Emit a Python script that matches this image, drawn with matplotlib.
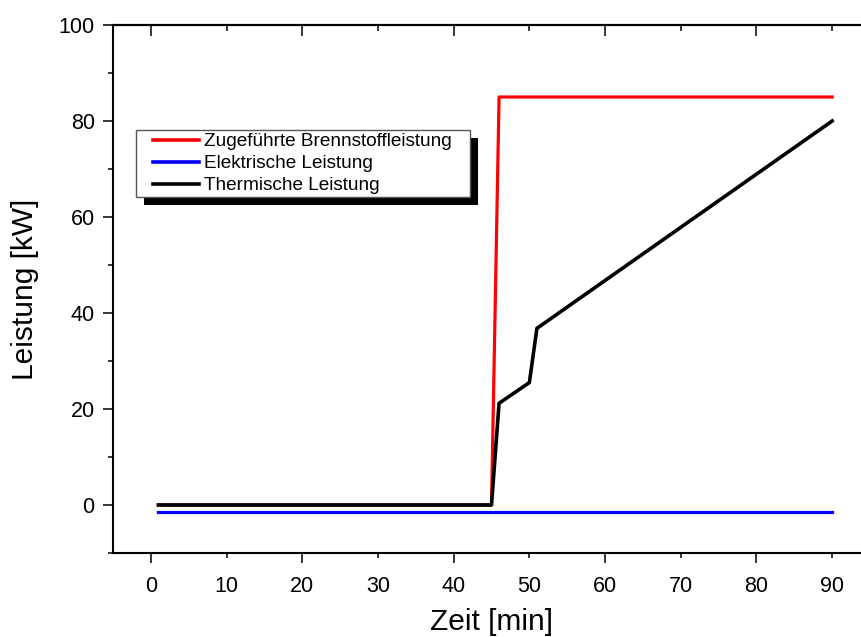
#Leistungsverlauf: Brennstoff-, elektrische und thermische Leistung ueber die Zeit

import matplotlib
matplotlib.use("Agg")
import matplotlib.pyplot as plt
from matplotlib.patches import Rectangle
from matplotlib.transforms import IdentityTransform
from matplotlib.ticker import MultipleLocator, FormatStrFormatter

plt.rcParams['font.family'] = ['Liberation Sans', 'DejaVu Sans']

# data
zeit_brennstoff = [1, 45, 46, 90]
brennstoff = [0, 0, 85, 85]

zeit_elektrisch = [1, 90]
elektrisch = [-1.5, -1.5]

zeit_thermisch = [1, 45, 46, 50, 51, 90]
thermisch = [0, 0, 21.2, 25.5, 36.8, 80]

labels = ["Zugeführte Brennstoffleistung", "Elektrische Leistung", "Thermische Leistung"]

W, H = 862, 637
fig = plt.figure(figsize=(W / 100, H / 100), dpi=100)
# axes runs a bit past the right edge of the picture (cropped like the original)
ax = fig.add_axes([113 / W, (H - 553) / H, (870 - 113) / W, (553 - 25) / H])

ax.plot(zeit_brennstoff, brennstoff, color="#ff0000", lw=2.3, label=labels[0])
ax.plot(zeit_elektrisch, elektrisch, color="#0000ff", lw=2.3, label=labels[1])
ax.plot(zeit_thermisch, thermisch, color="black", lw=2.6, label=labels[2])

ax.set_xlim(-5, 95)
ax.set_ylim(-10, 100)

ax.xaxis.set_major_locator(MultipleLocator(20))
ax.xaxis.set_minor_locator(MultipleLocator(10))
ax.xaxis.set_major_formatter(FormatStrFormatter('%d'))
ax.xaxis.set_minor_formatter(FormatStrFormatter('%d'))
ax.yaxis.set_major_locator(MultipleLocator(20))
ax.yaxis.set_minor_locator(MultipleLocator(10))

ax.tick_params(which='both', direction='out', width=1.1, labelsize=15.5, top=False, right=False)
ax.tick_params(which='major', length=7.2)
ax.tick_params(which='minor', length=3.6)
ax.tick_params(axis='x', which='major', pad=9)
ax.tick_params(axis='x', which='minor', pad=12.6)
ax.tick_params(axis='y', which='major', pad=6)

# inward ticks along the top edge
top = ax.secondary_xaxis('top')
top.xaxis.set_major_locator(MultipleLocator(20))
top.xaxis.set_minor_locator(MultipleLocator(10))
top.tick_params(which='both', direction='in', width=1.1, labeltop=False)
top.tick_params(which='major', length=8)
top.tick_params(which='minor', length=4)
top.spines['top'].set_linewidth(1.5)

for s in ['left', 'bottom', 'top']:
	ax.spines[s].set_linewidth(1.5)
ax.spines['right'].set_visible(False)

ax.set_xlabel("Zeit [min]", fontsize=21.5, labelpad=8)
ax.set_ylabel("Leistung [kW]", fontsize=21.5, labelpad=14)

leg = ax.legend(loc='upper left', bbox_to_anchor=(153 / W, 1 - 133 / H), bbox_transform=fig.transFigure,
	frameon=False, fontsize=13.7, borderpad=0, borderaxespad=0, handlelength=2.4,
	handletextpad=0.3, labelspacing=0.25)
leg.set_zorder(6)
for line in leg.get_lines():
	line.set_linewidth(2.6)

# Origin style frame with a hard black shadow
fig.canvas.draw()
bb = leg.get_window_extent()
x0, y0 = bb.x0 - 17, bb.y0 - 3
w, h = bb.width + 35, bb.height + 6
ax.add_patch(Rectangle((x0 + 8, y0 - 8), w, h, transform=IdentityTransform(),
	facecolor='black', edgecolor='none', zorder=4.8, clip_on=False))
ax.add_patch(Rectangle((x0, y0), w, h, transform=IdentityTransform(),
	facecolor='white', edgecolor='#555555', lw=1, zorder=4.9, clip_on=False))

fig.savefig("out.png", dpi=100)
